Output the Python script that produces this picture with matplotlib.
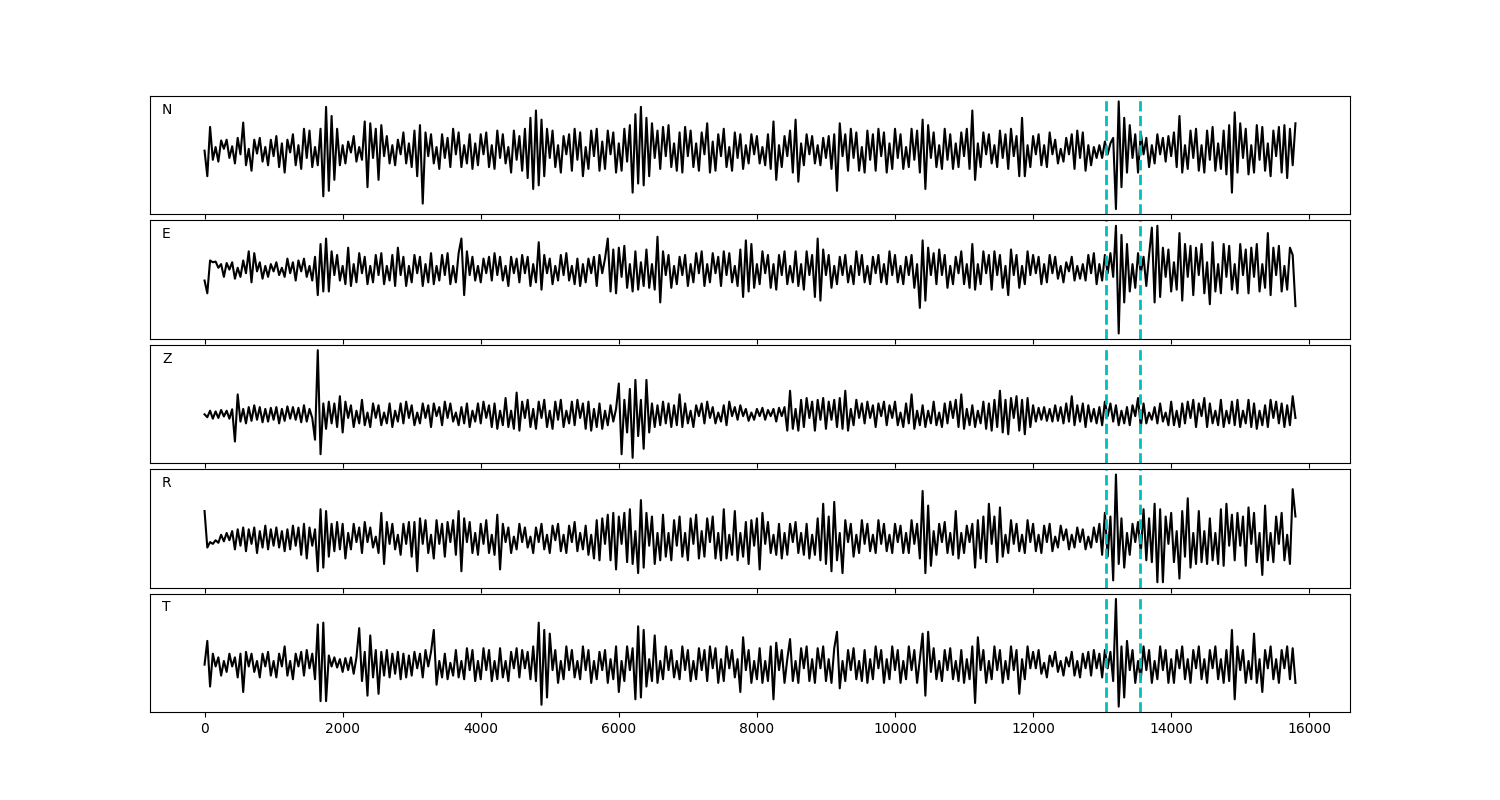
import numpy as np
import matplotlib.pyplot as plt

# sample spacing along the x axis
dt = 40

# trace amplitudes (arbitrary units, one row per 1000 samples)
n_comp = [
    0, -70, 65, -25, 10, -30, 28, 5, 30, -20, 12, -35, 35, -10, 77, -40, 5, -55, 30, -8, 35, -30, 10, -40, 30,
    -15, 40, -45, 20, -60, 30, -5, 45, -40, 15, -50, 60, -20, 55, -45, 10, -40, 60, -125, 120, -110, 95, -80, 60, -40,
    15, -35, 25, -5, 40, -30, 10, -25, 80, -100, 75, -20, 60, -80, 70, -15, 40, -35, 15, -40, 30, -10, 50, -35, 20,
    -45, 55, -70, 70, -145, 50, -15, 45, -35, 10, -50, 45, -20, 35, -45, 60, -10, 50, -45, 15, -35, 45, -50, 20, -40,
    45, -10, 50, -45, 15, -50, 55, -20, 45, -35, 10, -60, 55, -25, 40, -55, 60, -75, 90, -105, 110, -95, 85, -70, 60,
    -20, 55, -45, 15, -60, 40, -10, 45, -55, 60, -25, 50, -70, 10, -50, 55, -15, 60, -55, 25, -50, 55, -10, 50, -60,
    20, -55, 60, -30, 70, -115, 100, -90, 120, -95, 90, -70, 75, -20, 55, -50, 65, -15, 70, -45, 20, -55, 50, -60, 65,
    -15, 55, -45, 20, -55, 50, -10, 75, -60, 25, -55, 45, -15, 60, -45, 10, -55, 50, -20, 45, -50, 15, -35, 45, -10,
    40, -35, 10, -40, 45, -50, 80, -80, 15, -45, 40, -15, 55, -60, 85, -85, 20, -40, 45, -10, 40, -35, 15, -40, 35,
    -20, 40, -50, 45, -110, 75, -15, 45, -55, 60, -20, 50, -55, 10, -60, 55, -25, 45, -55, 60, -15, 50, -60, 20, -50,
    60, -20, 45, -50, 10, -45, 60, -25, 55, -60, 85, -105, 70, -20, 50, -45, 15, -50, 60, -25, 45, -50, 20, -45, 50,
    -15, 60, -50, 110, -80, 20, -45, 50, -10, 45, -35, 15, -45, 55, -20, 45, -50, 60, -15, 40, -70, 90, -70, 15, -45,
    40, -10, 45, -40, 15, -45, 50, -10, 30, -35, 5, -30, 35, -10, 45, -50, 55, -20, 50, -55, 15, -40, 10, -20, 15,
    -20, 25, -10, 20, 35, -160, 135, -100, 90, -60, 70, -20, 45, -60, 50, -10, 35, -45, 15, -35, 45, -10, 35, -30, 40,
    -15, 50, -45, 95, -60, 15, -50, 55, -20, 60, -55, 15, -60, 55, -25, 65, -55, 20, -50, 55, -65, 70, -115, 105, -60,
    75, -20, 60, -65, 15, -60, 70, -25, 65, -55, 20, -70, 55, -15, 65, -60, 70, -75, 60, -40, 75,
]

e_comp = [
    -30, -65, 25, 20, 22, 5, 15, -20, 18, 0, 20, -25, 5, -20, 25, -10, 50, -35, 45, -5, 20, -25, 10, -20, 15,
    -5, 20, -15, 5, -20, 30, -10, 20, -30, 25, -5, 30, -20, 10, -30, 35, -70, 70, -60, 85, -60, 50, -15, 40, -30,
    10, -40, 60, -45, 15, -35, 45, -10, 35, -40, 10, -35, 40, -15, 45, -40, 10, -30, 40, -45, 60, -15, 35, -45, 10,
    -35, 40, -10, 35, -45, 15, -35, 45, -40, 10, -30, 40, -15, 45, -40, 10, -35, 45, 85, -70, 50, -15, 35, -30, 10,
    -35, 30, -10, 35, -30, 45, -15, 35, -30, 10, -45, 35, -10, 30, -35, 40, -10, 35, -45, 15, -35, 75, -55, 40, -10,
    30, -40, 10, -30, 40, -15, 45, -30, 10, -40, 30, -45, 15, -35, 30, -10, 35, -45, 40, -10, 30, 85, -60, 55, -65,
    60, -20, 65, -50, 15, -60, 50, -55, 20, -45, 55, -50, 15, -55, 90, -90, 50, -15, 40, -50, 10, -40, 35, -15, 40,
    -45, 15, -35, 45, -10, 50, -45, 15, -35, 45, -10, 35, -45, 50, -15, 45, -35, 10, -45, 55, -75, 80, -60, 70, -50,
    15, -40, 50, -10, 40, -50, 15, -55, 40, -15, 50, -40, 10, -35, 50, -45, 15, -55, 50, -15, 40, -75, 85, -85, 55,
    -15, 40, -50, 10, -40, 35, -15, 40, -35, 10, -40, 50, -15, 40, -35, 10, -40, 35, -10, 40, -35, 15, -40, 50, -15,
    40, -35, 10, -40, 35, -15, 40, -50, 15, -105, 80, -85, 60, -15, 45, -40, 55, -15, 40, -50, 10, -40, 35, -10, 50,
    -40, 15, -50, 70, -55, 15, -40, 50, -10, 40, -55, 50, -15, 40, -50, 10, -70, 55, -15, 40, -50, 10, -40, 50, -15,
    40, -10, 35, -40, 15, -35, 40, -10, 35, -25, 10, -35, 20, -5, 35, -30, 10, -25, 15, -30, 40, -10, 45, -40, 15,
    -30, 40, -10, 45, -20, 120, -175, 95, -90, 70, -60, 15, -50, 45, -10, 35, -45, 40, 115, -90, 120, -75, 60, -20, 55,
    -60, 20, -55, 100, -85, 70, -20, 65, -70, 60, -15, 70, -65, 20, -95, 75, -60, 15, -65, 70, -20, 65, -55, 15, -65,
    70, -15, 55, -65, 60, -20, 70, -60, 15, -50, 100, -70, 60, -15, 65, -60, 10, -55, 60, 40, -100,
]

z_comp = [
    0, -8, 10, -12, 8, -10, 12, -6, 10, -12, 14, -75, 55, -20, 15, -25, 20, -18, 25, -15, 20, -22, 15, -20, 18,
    -15, 20, -25, 15, -18, 22, -12, 20, -15, 18, -22, 25, -20, 15, -10, -70, 177, -110, 30, -40, 35, -25, 30, -35, 50,
    -50, 35, -10, 25, -35, 10, -25, 40, -30, 5, -35, 30, -10, 25, -30, 5, -25, 30, -35, 10, -20, 30, -25, 35, -10,
    25, -30, 5, -25, 30, -10, 25, -35, 30, -5, 20, -30, 35, -10, 30, -20, 5, -30, 20, -25, 30, -35, 10, -20, 30,
    -25, 35, -10, 25, -35, 30, -40, 10, -30, 45, -35, 10, -40, 60, -45, 35, -10, 40, -35, 15, -40, 35, -10, 40, -35,
    10, -40, 35, -15, 40, -35, 10, -25, 35, -30, 40, -10, 30, -40, 35, -45, 15, -35, 30, -40, 10, -30, 25, -20, 15,
    85, -110, 40, -50, 70, -120, 95, -60, 40, -95, 95, -50, 30, -35, 25, -30, 35, -25, 30, -35, 25, -30, 55, -35, 30,
    -25, 10, -35, 25, -5, 30, -25, 35, -10, 20, -25, 5, -20, 25, -30, 35, -5, 20, -15, 25, -5, 15, -18, 5, -15,
    15, -5, 18, -15, 12, -5, 15, -20, 18, -5, 20, -45, 65, -40, 15, -45, 40, -35, 45, -10, 35, -45, 40, -15, 45,
    -40, 35, -15, 40, -35, 45, -40, 65, -45, 15, -30, 40, -10, 30, -25, 35, -10, 25, -35, 30, -5, 35, -30, 25, -10,
    35, -30, 5, -35, 30, -25, 55, -40, 10, -30, 25, -35, 10, -25, 35, -30, 5, -35, 30, -25, 35, -10, 40, -35, 55,
    -40, 15, -30, 25, -35, 10, -25, 35, -40, 30, -45, 40, -35, 65, -50, 40, -55, 45, -10, 50, -45, 40, -55, 45, -35,
    25, -20, 18, -15, 20, -18, 15, -20, 25, -18, 20, -25, 30, -20, 50, -30, 25, -20, 30, -35, 25, -20, 15, -25, 20,
    -30, 35, -5, 30, -20, 25, -30, 10, -25, 20, -30, 25, -5, 45, -35, 30, -25, 5, -15, 20, -25, 30, -20, 5, -30,
    35, -30, 10, -35, 30, -25, 35, -10, 40, -35, 30, -5, 45, -35, 30, -25, 10, -30, 40, -35, 10, -25, 35, -30, 40,
    -35, 10, -25, 40, -35, 30, -40, 10, -30, 25, -35, 40, -10, 35, -25, 30, -35, 25, -30, 50, -10,
]

r_comp = [
    75, -25, -10, -15, -5, -12, 10, -8, 15, -5, 20, -30, 25, -20, 30, -35, 25, -15, 30, -40, 20, -25, 35, -30, 25,
    -20, 30, -25, 20, -35, 25, -30, 35, -20, 30, -45, 40, -55, 30, -20, 25, -90, 80, -80, 75, -50, 40, -35, 45, -30,
    40, -55, 15, -30, 40, -10, 30, -40, 45, -10, 30, -25, 5, -40, 70, -70, 45, -15, 40, -30, 10, -45, 40, -15, 45,
    -50, 45, -90, 55, -15, 50, -40, 10, -55, 50, -15, 40, -50, 45, -10, 50, -45, 75, -90, 55, -10, 45, -40, 15, -45,
    40, -15, 50, -40, 10, -45, 65, -85, 40, -10, 30, -40, 5, -30, 40, -10, 30, -25, 5, -40, 30, -10, 40, -30, 10,
    -40, 35, -5, 40, -35, 10, -40, 35, -10, 45, -35, 15, -30, 35, -45, 10, -55, 50, -60, 55, -15, 65, -60, 70, -85,
    60, -15, 70, -65, 80, -70, 20, -95, 105, -80, 70, -20, 60, -70, 15, -60, 65, -50, 15, -60, 50, -20, 60, -50, 15,
    -60, 55, -15, 65, -55, 20, -50, 55, -10, 60, -55, 15, -60, 80, -55, 10, -45, 75, -60, 15, -50, 45, -70, 50, -20,
    55, -85, 70, -15, 45, -40, 10, -45, 40, -55, 15, -45, 40, -10, 45, -40, 15, -45, 40, -55, 10, -45, 55, -60, 95,
    -70, 60, -90, 100, -60, 15, -95, 50, -10, 40, -50, 10, -40, 50, -15, 40, -35, 10, -40, 50, -15, 40, -35, 10, -40,
    40, -10, 35, -40, 15, -40, 50, -15, 40, -55, 130, -95, 90, -75, 20, -45, 40, -10, 45, -40, 15, -45, 75, -55, 15,
    -40, 35, -10, 40, -80, 50, -55, 60, -65, 95, -15, 60, -65, 85, -50, 10, -40, 50, -15, 40, -35, 10, -40, 50, -10,
    40, -35, 10, -40, 35, -10, 40, -35, 5, -25, 35, -5, 25, -30, 10, -25, 30, -10, 25, -30, 5, -25, 30, -10, 40,
    -45, 70, -50, 60, -115, 175, -70, 55, -80, 15, -45, 40, -10, 45, -40, 80, -60, 55, -65, 95, -120, 80, -120, 60, -15,
    70, -65, 20, -110, 75, -50, 110, -80, 15, -70, 75, -65, 20, -70, 55, -60, 15, -70, 80, -75, 95, -20, 65, -60, 70,
    -20, 60, -75, 85, -15, 70, -65, 15, -100, 90, -60, 15, -65, 60, -15, 70, -60, 10, -70, 135, 60,
]

t_comp = [
    0, 65, -60, 30, -5, 20, -30, 10, -20, 30, -5, 20, -35, 30, -75, 35, -5, 30, -20, 10, -35, 30, -5, 35, -30,
    10, -35, 30, -5, 50, -30, 10, -40, 30, -5, 35, -30, 40, -10, 30, -40, 110, -100, 115, -100, 25, -5, 20, -8, 15,
    -20, 18, -15, 20, -25, 20, 100, -45, 35, -85, 80, -35, 40, -80, 35, -30, 40, -35, 30, -25, 35, -40, 30, -35, 25,
    -30, 35, -10, 30, -35, 40, -5, 35, 95, -55, 10, -35, 30, -40, 5, -30, 40, -35, 10, -40, 45, -15, 40, -45, 10,
    -40, 45, -15, 40, -45, 10, -40, 45, -35, 10, -45, 35, -10, 45, -35, 40, -10, 35, -40, 50, -45, 115, -110, 95, -90,
    85, -15, 40, -50, 10, -40, 50, -15, 40, -35, 10, -40, 50, -15, 40, -50, 10, -40, 35, -15, 40, -50, 15, -40, 50,
    -75, 10, -45, 50, -15, 45, -95, 105, -90, 95, -60, 15, -45, 80, -50, 10, -40, 50, -15, 40, -35, 10, -40, 50, -15,
    40, -45, 10, -40, 45, -15, 40, -45, 50, -10, 45, -50, 15, -45, 50, -10, 40, -35, 15, -75, 75, -15, 40, -50, 10,
    -40, 45, -50, 10, -45, 50, -95, 60, -15, 40, -50, 15, 70, -45, 10, -50, 45, -10, 50, -45, 15, -50, 45, -10, 50,
    -45, 15, -50, 45, 90, -65, 10, -45, 40, -15, 45, -40, 10, -45, 40, -50, 15, -40, 50, -10, 40, -50, 15, -40, 50,
    -15, 40, -50, 10, -40, 50, -15, 40, -50, 15, 85, -85, 90, -20, 45, -40, 10, -45, 40, -15, 45, -40, 10, -45, 40,
    -50, 15, -40, 50, -105, 75, -15, 40, -50, 10, -40, 50, -15, 40, -50, 10, -40, 50, -15, 40, -80, 15, -40, 50, -10,
    35, -10, 40, -25, 5, -35, 25, -5, 35, -20, 10, -30, 20, -5, 35, -30, 10, -35, 30, -10, 35, -30, 40, -10, 30,
    -35, 40, -10, 35, -45, 180, -115, 50, -90, 65, -15, 40, -50, 10, -40, 50, -15, 40, -50, 10, -40, 50, -15, 40, -50,
    15, -50, 40, -10, 50, -40, 15, -50, 40, -10, 50, -40, 15, -50, 40, -10, 50, -40, 15, -50, 40, -45, 95, -95, 50,
    -15, 40, -50, 10, -40, 85, -50, 15, -75, 40, -10, 50, -40, 15, -50, 40, -10, 50, -40, 45, -50,
]

labels = ["N", "E", "Z", "R", "T"]
traces = [n_comp, e_comp, z_comp, r_comp, t_comp]

# picks (start / end of window)
picks = [13050, 13550]

fig, axes = plt.subplots(5, 1, sharex=True, figsize=(15, 8))
plt.subplots_adjust(left=0.1, right=0.9, hspace=0.05)

for ax, lbl, tr in zip(axes, labels, traces):
    tr = np.asarray(tr, dtype=float)
    x = np.arange(len(tr)) * dt
    ax.plot(x, tr, color="k", lw=1.5)
    for p in picks:
        ax.axvline(p, color="c", linestyle="--", lw=2)
    ax.text(0.01, 0.85, lbl, transform=ax.transAxes)
    ax.set_yticks([])

plt.savefig("out.png", dpi=100)
